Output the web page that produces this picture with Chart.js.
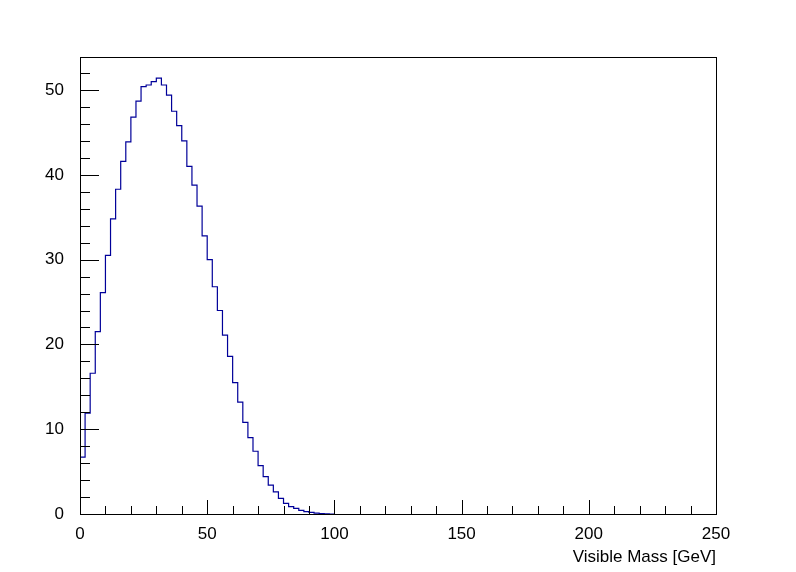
<!DOCTYPE html>
<html>
<head>
<meta charset="utf-8">
<script src="https://cdn.jsdelivr.net/npm/chart.js@4/dist/chart.umd.min.js"></script>
<style>
  body { margin: 0; background: #fff; }
  #wrap { width: 796px; height: 572px; }
</style>
</head>
<body>
<div id="wrap"><canvas id="massChart"></canvas></div>
<script>
// histogram: 2 GeV bins starting at 0
const binWidth = 2;
const binCounts = [
  2.0, 6.7, 11.9, 16.6, 21.5, 26.1, 30.5, 34.8, 38.3, 41.6,
  43.9, 46.8, 48.7, 50.4, 50.6, 51.0, 51.4, 50.6, 49.4, 47.5,
  45.8, 44.0, 41.0, 38.8, 36.3, 32.8, 30.0, 26.8, 24.0, 21.1,
  18.6, 15.5, 13.2, 10.8, 9.0, 7.4, 5.7, 4.4, 3.4, 2.6,
  1.85, 1.26, 0.86, 0.67, 0.43, 0.27, 0.2, 0.1, 0.05, 0.02
];
const xTicks = [0, 50, 100, 150, 200, 250];
const yTicks = [0, 10, 20, 30, 40, 50];

const points = binCounts.map((v, i) => ({ x: i * binWidth, y: v }));
points.push({ x: binCounts.length * binWidth, y: 0 });

const font = { family: "'Liberation Sans', Arial, sans-serif", size: 17 };

// ROOT-style frame with inward major/minor ticks
const frameTicks = {
  id: "frameTicks",
  afterDraw(chart) {
    const { ctx, chartArea: a, scales: { x, y } } = chart;
    ctx.save();
    ctx.strokeStyle = "#000";
    ctx.lineWidth = 1;
    ctx.strokeRect(a.left + 0.5, a.top + 0.5, a.right - a.left, a.bottom - a.top);
    ctx.beginPath();
    for (let v = 0; v <= 250; v += 10) {
      const px = Math.round(x.getPixelForValue(v)) + 0.5;
      const len = v % 50 === 0 ? 14 : 8;
      ctx.moveTo(px, a.bottom);
      ctx.lineTo(px, a.bottom - len);
    }
    for (let v = 0; v <= 52; v += 2) {
      const py = Math.round(y.getPixelForValue(v)) + 0.5;
      const len = v % 10 === 0 ? 19 : 10;
      ctx.moveTo(a.left, py);
      ctx.lineTo(a.left + len, py);
    }
    ctx.stroke();
    ctx.restore();
  }
};

new Chart(document.getElementById("massChart"), {
  type: "line",
  data: {
    datasets: [{
      data: points,
      stepped: "after",
      borderColor: "#000099",
      borderWidth: 1.2,
      pointRadius: 0,
      fill: false
    }]
  },
  options: {
    responsive: true,
    maintainAspectRatio: false,
    animation: false,
    layout: { padding: { top: 57, right: 80 } },
    plugins: { legend: { display: false }, tooltip: { enabled: false } },
    scales: {
      x: {
        type: "linear",
        min: 0,
        max: 250,
        afterFit: s => { s.height = 58; },
        afterBuildTicks: s => { s.ticks = xTicks.map(v => ({ value: v })); },
        grid: { display: false },
        border: { display: false },
        ticks: { color: "#000", font, maxRotation: 0, padding: 2 },
        title: {
          display: true, text: "Visible Mass [GeV]", align: "end",
          color: "#000", font, padding: { top: 2 }
        }
      },
      y: {
        min: 0,
        max: 53.9,
        afterFit: s => { s.width = 80; },
        afterBuildTicks: s => { s.ticks = yTicks.map(v => ({ value: v })); },
        grid: { display: false },
        border: { display: false },
        ticks: { color: "#000", font, padding: 8 }
      }
    }
  },
  plugins: [frameTicks]
});
</script>
</body>
</html>
